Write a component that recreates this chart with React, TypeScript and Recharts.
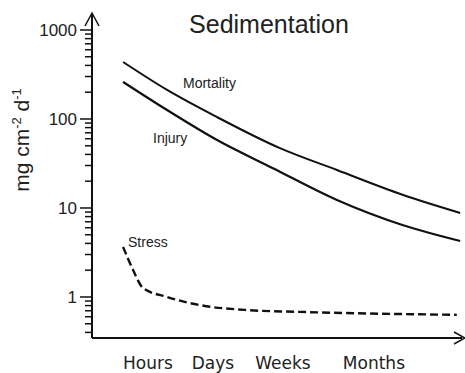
import React from 'react';
import { LineChart, Line, XAxis, YAxis, ReferenceDot } from 'recharts';

// time axis runs 0..100 (relative position along the unlabelled time scale)
const mortalityX = [8.4, 20.3, 33.8, 50.8, 66.2, 84.1, 99.5];
const mortality = [437, 212, 105, 47, 26.7, 14.0, 8.8];

const injuryX = [8.4, 20.3, 33.8, 48.9, 66.2, 84.1, 99.5];
const injury = [261, 126, 58, 28, 12.3, 6.4, 4.26];

const stressX = [8.4, 11.1, 13.8, 20.3, 29.2, 42.7, 56.2, 98.6];
const stress = [3.65, 2.01, 1.26, 1.0, 0.81, 0.71, 0.68, 0.63];

const timeLabels = ['Hours', 'Days', 'Weeks', 'Months'];
const timeTicks = [15.1, 32.7, 51.6, 76.2];

const majorTicks = [1, 10, 100, 1000];
const minorTicks = [
  0.4, 0.5, 0.6, 0.7, 0.8, 0.9,
  2, 3, 4, 5, 6, 7, 8, 9,
  20, 30, 40, 50, 60, 70, 80, 90,
  200, 300, 400, 500, 600, 700, 800, 900,
];

const yDomain = [0.346, 1474];

const toPoints = (xs: number[], ys: number[]) => xs.map((x, i) => ({ x, y: ys[i] }));

const YTick = ({ x, y, payload }: any) => {
  const major = majorTicks.includes(payload.value);
  return (
    <g>
      <line x1={x - (major ? 12 : 7)} x2={x} y1={y} y2={y} stroke="#111" strokeWidth={1.5} />
      {major && (
        <text x={x - 15} y={y} dy={6} textAnchor="end" fontSize={17} fill="#222"
          fontFamily="'Liberation Sans', Arial, sans-serif">
          {payload.value}
        </text>
      )}
    </g>
  );
};

const XTick = ({ x, y, payload }: any) => {
  const i = timeTicks.indexOf(payload.value);
  return (
    <text x={x} y={y + 31} textAnchor="middle" fontSize={17} fill="#222"
      fontFamily="'DejaVu Sans', Verdana, sans-serif">
      {timeLabels[i]}
    </text>
  );
};

const UpArrow = ({ cx, cy }: any) => (
  <path d={`M${cx - 7},${cy + 11} L${cx},${cy - 2} L${cx + 7},${cy + 11}`} fill="none" stroke="#111" strokeWidth={1.5} />
);

const RightArrow = ({ cx, cy }: any) => (
  <path d={`M${cx - 8},${cy - 6} L${cx + 3},${cy} L${cx - 8},${cy + 6}`} fill="none" stroke="#111" strokeWidth={1.5} />
);

const sans = "'Liberation Sans', Arial, sans-serif";

const App = () => {
  return (
    <div style={{ position: 'absolute', left: 0, top: 0, background: '#fff' }}>
      <LineChart width={465} height={373} margin={{ top: 15, right: 3, left: 22, bottom: 0 }}>
        <XAxis
          type="number"
          dataKey="x"
          domain={[0, 100]}
          ticks={timeTicks}
          tick={<XTick />}
          tickLine={false}
          tickSize={0}
          tickMargin={0}
          height={35}
          axisLine={{ stroke: '#111', strokeWidth: 2 }}
          allowDuplicatedCategory={false}
        />
        <YAxis
          type="number"
          dataKey="y"
          scale="log"
          domain={yDomain}
          allowDataOverflow
          ticks={[...minorTicks, ...majorTicks].sort((a, b) => a - b)}
          interval={0}
          tick={<YTick />}
          tickLine={false}
          tickSize={0}
          tickMargin={0}
          width={70}
          axisLine={{ stroke: '#111', strokeWidth: 2 }}
        />
        <Line data={toPoints(mortalityX, mortality)} dataKey="y" type="monotone" stroke="#111"
          strokeWidth={2} dot={false} isAnimationActive={false} />
        <Line data={toPoints(injuryX, injury)} dataKey="y" type="monotone" stroke="#111"
          strokeWidth={2.2} dot={false} isAnimationActive={false} />
        <Line data={toPoints(stressX, stress)} dataKey="y" type="monotone" stroke="#111"
          strokeWidth={2.4} strokeDasharray="8 4" dot={false} isAnimationActive={false} />
        <ReferenceDot x={0} y={yDomain[1]} ifOverflow="visible" shape={<UpArrow />} />
        <ReferenceDot x={100} y={yDomain[0]} ifOverflow="visible" shape={<RightArrow />} />
        <text x={269} y={33} textAnchor="middle" fontSize={25} fill="#222" fontFamily={sans}>
          Sedimentation
        </text>
        <text x={183} y={88} fontSize={14} fill="#222" fontFamily={sans}>Mortality</text>
        <text x={153} y={143} fontSize={14} fill="#222" fontFamily={sans}>Injury</text>
        <text x={128} y={247} fontSize={14} fill="#222" fontFamily={sans}>Stress</text>
        <text transform="translate(29,140) rotate(-90)" textAnchor="middle" fontSize={21} fill="#222" fontFamily={sans}>
          mg cm<tspan dy={-8} fontSize={13}>-2</tspan><tspan dy={8}> d</tspan><tspan dy={-8} fontSize={13}>-1</tspan>
        </text>
      </LineChart>
    </div>
  );
};

export default App;
